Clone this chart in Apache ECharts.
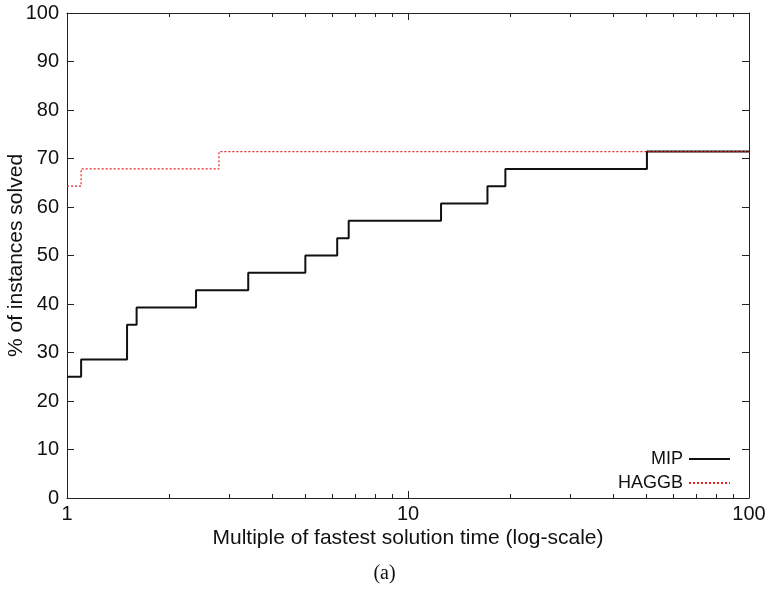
<!DOCTYPE html>
<html>
<head>
  <meta charset="utf-8">
  <script src="https://cdn.jsdelivr.net/npm/echarts@6/dist/echarts.min.js"></script>
  <style>
    html, body { margin: 0; padding: 0; background: #fff; }
    #chart { width: 769px; height: 593px; }
  </style>
</head>
<body>
  <div id="chart"></div>
  <script>
    // performance profile data (28 instances, steps of 1/28)
    const mipX = [1, 1.10, 1.50, 1.60, 2.39, 3.40, 5.0, 6.2, 6.7, 12.5, 17.1, 19.3, 50.2, 100];
    const mipY = [25, 28.57, 35.71, 39.29, 42.86, 46.43, 50, 53.57, 57.14, 60.71, 64.29, 67.86, 71.43, 71.43];
    const haggbX = [1, 1.10, 2.79, 100];
    const haggbY = [64.29, 67.86, 71.43, 71.43];
    const minorTicks = [2, 3, 4, 5, 6, 7, 8, 9, 20, 30, 40, 50, 60, 70, 80, 90];

    const font = "'Liberation Sans', Arial, sans-serif";
    const axisColor = "#222";

    const pairs = (xs, ys) => xs.map((x, i) => [x, ys[i]]);

    const logAxis = (pos, opts) => Object.assign({
      type: "log",
      logBase: 10,
      position: pos,
      min: 1,
      max: 100,
      splitLine: { show: false },
      axisLine: { show: true, lineStyle: { color: axisColor, width: 1 } },
      axisTick: { show: true, inside: true, length: 7, lineStyle: { color: axisColor } },
      axisLabel: { show: false },
    }, opts);

    const minorAxis = (pos) => logAxis(pos, {
      axisLine: { show: false },
      axisTick: {
        show: true, inside: true, length: 4,
        customValues: minorTicks,
        lineStyle: { color: axisColor },
      },
    });

    const chart = echarts.init(document.getElementById("chart"), null, { renderer: "canvas" });

    chart.setOption({
      animation: false,
      backgroundColor: "#fff",
      grid: { left: 67, right: 20, top: 13, bottom: 95, containLabel: false, outerBoundsMode: "none" },
      xAxis: [
        logAxis("bottom", {
          axisLabel: { show: true, fontSize: 20, color: "#111", fontFamily: font, margin: 6 },
          name: "Multiple of fastest solution time (log-scale)",
          nameLocation: "middle",
          nameGap: 30,
          nameMoveOverlap: false,
          nameTextStyle: { fontSize: 21, color: "#111", fontFamily: font },
        }),
        minorAxis("bottom"),
        logAxis("top", {}),
        minorAxis("top"),
      ],
      yAxis: [
        {
          type: "value",
          position: "left",
          min: 0,
          max: 100,
          interval: 10,
          splitLine: { show: false },
          axisLine: { show: true, lineStyle: { color: axisColor, width: 1 } },
          axisTick: { show: true, inside: true, length: 7, lineStyle: { color: axisColor } },
          axisLabel: { fontSize: 20, color: "#111", fontFamily: font, margin: 8 },
          name: "% of instances solved",
          nameLocation: "middle",
          nameGap: 40,
          nameMoveOverlap: false,
          nameTextStyle: { fontSize: 21, color: "#111", fontFamily: font },
        },
        {
          type: "value",
          position: "right",
          min: 0,
          max: 100,
          interval: 10,
          splitLine: { show: false },
          axisLine: { show: true, lineStyle: { color: axisColor, width: 1 } },
          axisTick: { show: true, inside: true, length: 7, lineStyle: { color: axisColor } },
          axisLabel: { show: false },
        },
      ],
      legend: {
        orient: "vertical",
        right: 33,
        bottom: 96,
        align: "right",
        itemWidth: 41,
        itemHeight: 14,
        itemGap: 6,
        itemStyle: { opacity: 0 },
        textStyle: { fontSize: 18, color: "#111", fontFamily: font, padding: [0, 1, 0, 0] },
        data: ["MIP", "HAGGB"],
      },
      graphic: [
        {
          type: "text",
          left: "center",
          top: 564,
          style: {
            text: "(a)",
            font: "20px 'Liberation Serif', 'DejaVu Serif', serif",
            fill: "#111",
          },
        },
      ],
      series: [
        {
          name: "MIP",
          type: "line",
          step: "end",
          symbol: "none",
          data: pairs(mipX, mipY),
          lineStyle: { color: "#111", width: 2 },
          itemStyle: { color: "#111" },
          z: 2,
        },
        {
          name: "HAGGB",
          type: "line",
          step: "end",
          symbol: "none",
          data: pairs(haggbX, haggbY),
          lineStyle: { color: "#e8251e", width: 1.2, type: [2, 2] },
          itemStyle: { color: "#e8251e" },
          z: 3,
        },
      ],
    });
  </script>
</body>
</html>
